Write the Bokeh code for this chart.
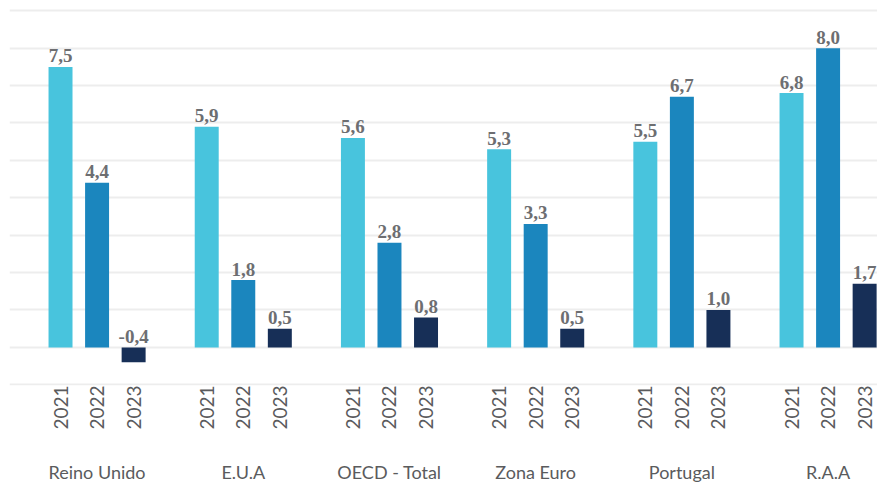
from math import pi
from bokeh.plotting import figure
from bokeh.models import ColumnDataSource, Range1d, LinearAxis, FixedTicker, Grid
from bokeh.core.properties import value
from bokeh.embed import file_html
from bokeh.resources import INLINE

groups = ["Reino Unido", "E.U.A", "OECD - Total", "Zona Euro", "Portugal", "R.A.A"]
years = ["2021", "2022", "2023"]
v2021 = [7.5, 5.9, 5.6, 5.3, 5.5, 6.8]
v2022 = [4.4, 1.8, 2.8, 3.3, 6.7, 8.0]
v2023 = [-0.4, 0.5, 0.8, 0.5, 1.0, 1.7]
colors = ["#48c4dd", "#1b86be", "#172f57"]
offsets = [-0.25, 0.0, 0.25]
grid_values = list(range(-1, 10))

p = figure(frame_width=868, frame_height=378,
           x_range=Range1d(-0.599, 5.338), y_range=Range1d(-1.019, 9.088),
           x_axis_type=None, y_axis_type=None,
           output_backend="svg", toolbar_location=None,
           min_border_left=9, min_border_right=0, min_border_top=7, min_border_bottom=0)
p.outline_line_color = None
p.background_fill_color = "white"
p.border_fill_color = "white"

p.add_layout(Grid(dimension=1, ticker=FixedTicker(ticks=grid_values),
                  grid_line_color="#ededed", grid_line_width=2))

series = [v2021, v2022, v2023]
tick_x = []
overrides = {}
for j, vals in enumerate(series):
    xs = [g + offsets[j] for g in range(len(groups))]
    labels = [f"{v:.1f}".replace(".", ",") for v in vals]
    src = ColumnDataSource(dict(x=xs, v=vals, ly=[max(v, 0) for v in vals], lab=labels))
    p.vbar(x="x", top="v", bottom=0, width=0.164, source=src,
           fill_color=colors[j], line_color=None)
    p.text(x="x", y="ly", text="lab", source=src, text_align="center",
           text_baseline="alphabetic", y_offset=-11,
           text_font=value("Liberation Serif"), text_font_style="bold",
           text_font_size="19px", text_color="#6d6e71")
    for x in xs:
        tick_x.append(x)
        overrides[x] = years[j]

tick_x.sort()

def style(ax, size, standoff):
    ax.axis_line_color = None
    ax.major_tick_line_color = None
    ax.minor_tick_line_color = None
    ax.major_tick_out = 0
    ax.major_tick_in = 0
    ax.major_label_standoff = standoff
    ax.major_label_text_font = "Lato"
    ax.major_label_text_font_size = size
    ax.major_label_text_color = "#5a5b5d"

year_axis = LinearAxis(ticker=FixedTicker(ticks=tick_x), major_label_overrides=overrides)
style(year_axis, "19px", 0)
year_axis.major_label_orientation = pi / 2
p.add_layout(year_axis, "below")

group_axis = LinearAxis(ticker=FixedTicker(ticks=list(range(len(groups)))),
                        major_label_overrides={i: g for i, g in enumerate(groups)})
style(group_axis, "18px", 28)
p.add_layout(group_axis, "below")

open("out.html", "w").write(file_html(p, INLINE))
